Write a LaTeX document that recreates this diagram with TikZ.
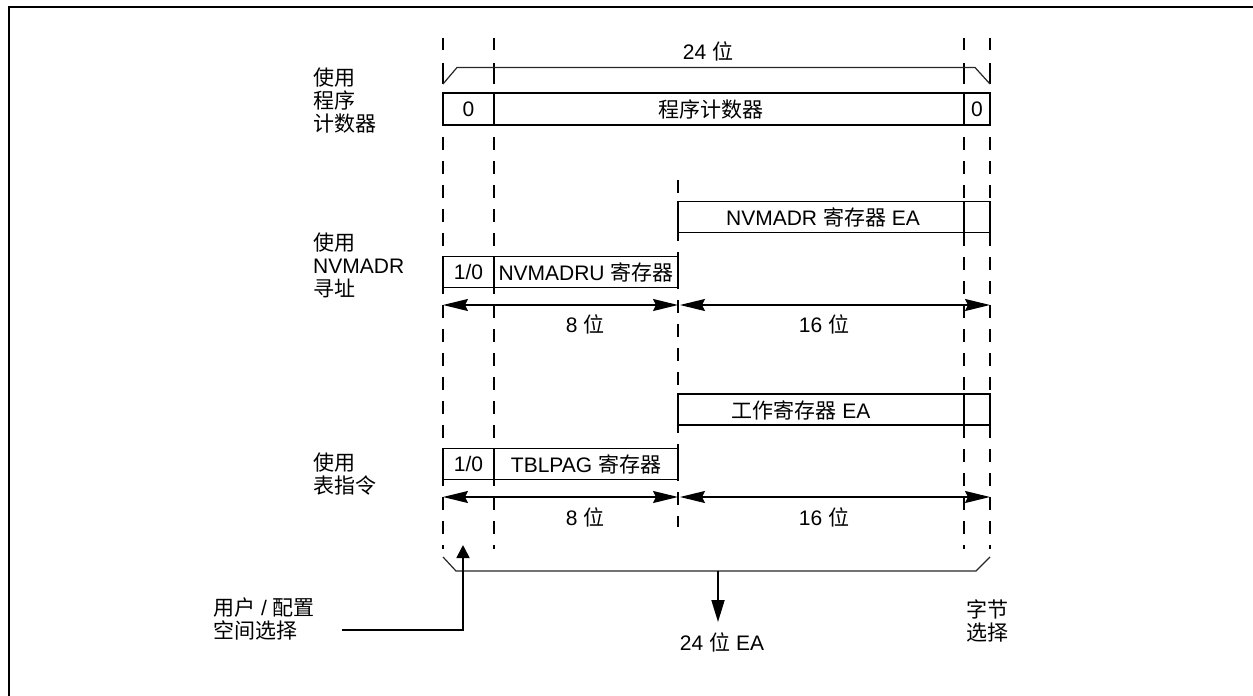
\documentclass[tikz,border=0pt]{standalone}
\usepackage{fontspec}
\setmainfont{Liberation Sans}
\newfontfamily\cjk{Noto Sans CJK SC}
\newcommand{\zh}[1]{{\cjk #1}}
\usetikzlibrary{arrows.meta}
\begin{document}
\begin{tikzpicture}[x=1pt,y=-1pt,
  txt/.style={font=\fontsize{21}{26}\selectfont, inner sep=0pt},
  lbl/.style={txt, align=left, anchor=west, font=\fontsize{21}{23}\selectfont},
  guide/.style={line width=1.7pt, dash pattern=on 13pt off 11pt},
  tick/.style={line width=1.7pt},
  cell/.style={draw, line width=1.8pt, inner sep=0pt, font=\fontsize{21}{26}\selectfont},
  brace/.style={line width=1.2pt, draw=black!85},
  dim/.style={line width=1.8pt, {Stealth[length=25pt,width=12pt,inset=3pt]}-{Stealth[length=25pt,width=12pt,inset=3pt]}},
]
\useasboundingbox (0,0) rectangle (1253,696);
% frame
\draw[line width=2.4pt] (9,710) -- (9,6.8) -- (1270,6.8);

% guide lines
\foreach \x in {443,494,964,990}{
  \draw[tick] (\x,38) -- (\x,50);
  \draw[tick] (\x,63) -- (\x,84);
  \draw[guide] (\x,137) -- (\x,549);
}
\draw[guide] (678,180) -- (678,527);

% top bracket
\draw[brace] (443,84) -- (457,67.5) -- (975,67.5) -- (990,84);
\node[txt] (top24) at (708,51.7) {24 \zh{位}};

% program counter row
\node[cell, minimum width=51pt, minimum height=32pt] (pc0) at (468.5,109) {0};
\node[cell, minimum width=470pt, minimum height=32pt] (pcbox) at (729,109) {};
\node[txt] (pctext) at (711,109) {\zh{程序计数器}};
\node[cell, minimum width=26pt, minimum height=32pt] (pc1) at (977,109) {0};
\node[lbl] (lab1) at (313,101) {\zh{使用}\\\zh{程序}\\\zh{计数器}};

% NVMADR row
\node[cell, minimum width=286pt, minimum height=31pt] (nvbox) at (821,217) {};
\node[txt] (nvtext) at (823,217) {NVMADR \zh{寄存器} EA};
\node[cell, minimum width=26pt, minimum height=31pt] (nvend) at (977,217) {};
\node[cell, minimum width=51pt, minimum height=31pt] (u0) at (468.5,272) {1/0};
\node[cell, minimum width=184pt, minimum height=31pt] (ubox) at (586,272) {NVMADRU \zh{寄存器}};
\node[lbl] (lab2) at (313,265) {\zh{使用}\\NVMADR\\\zh{寻址}};
\coordinate (a1) at (443,305);
\coordinate (a2) at (678,305);
\coordinate (a3) at (680,305);
\coordinate (a4) at (990,305);
\draw[dim] (a1) -- (a2);
\draw[dim] (a3) -- (a4);
\node[txt] (b8a) at (585,324) {8 \zh{位}};
\node[txt] (b16a) at (824,324) {16 \zh{位}};

% table row
\node[cell, minimum width=286pt, minimum height=31pt] (wbox) at (821,409.5) {};
\node[txt] (wtext) at (801,410) {\zh{工作寄存器} EA};
\node[cell, minimum width=26pt, minimum height=31pt] (wend) at (977,409.5) {};
\node[cell, minimum width=51pt, minimum height=31pt] (t0) at (468.5,464) {1/0};
\node[cell, minimum width=184pt, minimum height=31pt] (tbox) at (586,464) {TBLPAG \zh{寄存器}};
\node[lbl] (lab3) at (313,474) {\zh{使用}\\\zh{表指令}};
\coordinate (c1) at (443,497);
\coordinate (c2) at (678,497);
\coordinate (c3) at (680,497);
\coordinate (c4) at (990,497);
\draw[dim] (c1) -- (c2);
\draw[dim] (c3) -- (c4);
\node[txt] (b8b) at (585,517) {8 \zh{位}};
\node[txt] (b16b) at (824,517) {16 \zh{位}};

% bottom bracket
\draw[brace] (443,557) -- (456,571) -- (976,571) -- (990,557);
\coordinate (bm) at (718,571);
\coordinate (eatip) at (718,622);
\draw[line width=1.8pt, -{Triangle[length=22pt,width=13pt]}] (bm) -- (eatip);
\node[txt] (ea) at (722,642) {24 \zh{位} EA};

% byte select
\node[lbl] (bsel) at (966,621) {\zh{字节}\\\zh{选择}};

% user / config space select
\node[lbl] (usel) at (213,619) {\zh{用户} / \zh{配置}\\\zh{空间选择}};
\coordinate (uss) at (342,630);
\coordinate (ustip) at (463,545);
\draw[line width=1.8pt, -{Triangle[length=13pt,width=13pt]}] (uss) -| (ustip);
\end{tikzpicture}
\end{document}
